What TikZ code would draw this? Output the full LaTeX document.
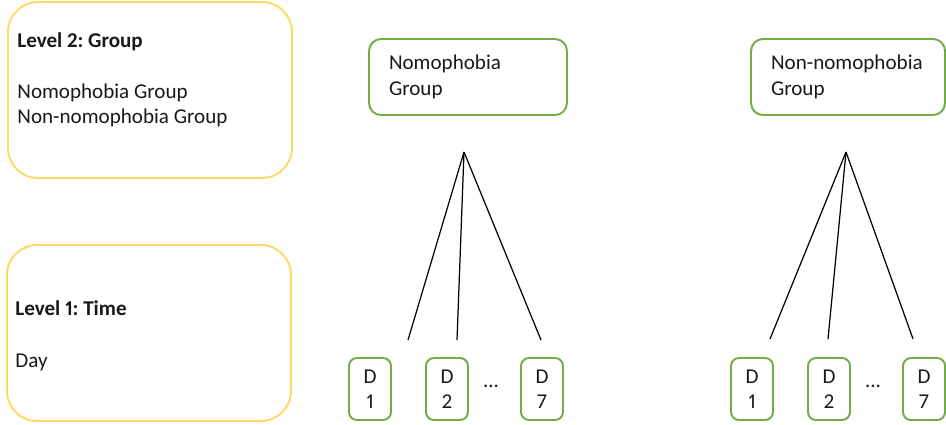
\documentclass[tikz,border=0pt]{standalone}
\usepackage{fontspec}
\setmainfont{Carlito}[Numbers=Proportional]
\frenchspacing
\usetikzlibrary{calc}
\definecolor{lvlyellow}{HTML}{FFD966}
\definecolor{grpgreen}{HTML}{70AD47}
\tikzset{
  lvlbox/.style={draw=lvlyellow,line width=1.1pt,rounded corners=0.6cm,
    minimum width=5.68cm,minimum height=3.52cm},
  grpbox/.style={draw=grpgreen,line width=1.1pt,rounded corners=0.24cm,
    minimum height=1.52cm,inner xsep=0.4cm,align=left},
  daybox/.style={draw=grpgreen,line width=1.1pt,rounded corners=0.16cm,
    minimum width=0.84cm,minimum height=1.24cm,inner sep=0pt,align=center},
  txt/.style={font=\fontsize{12}{14.5}\selectfont,text=black!90}
}

\begin{document}
\begin{tikzpicture}[txt]
      \useasboundingbox (0,0) rectangle (18.92,8.48);

      % levels
      \node[lvlbox] (lvtwo) at (3.00,6.68) {};
      \node[anchor=north west,inner sep=0pt,align=left] (lvtwotxt) at ($(lvtwo.north west)+(0.2,-0.62)$)
        {\textbf{Level 2: Group}\\[14.5pt]Nomophobia Group\\Non-nomophobia Group};
      \node[lvlbox] (lvone) at (2.98,1.82) {};
      \node[anchor=west,inner sep=0pt,align=left] (lvonetxt) at ($(lvone.west)+(0.18,-0.06)$)
        {\textbf{Level 1: Time}\\[15pt]Day};

      % nomophobia group
      \node[grpbox,text width=3.16cm] (nomo) at (9.36,6.94) {Nomophobia\\Group};
      \coordinate (nomotop) at (9.28,5.44);
      \coordinate (nomoa) at (8.16,1.68);
      \coordinate (nomob) at (9.14,1.68);
      \coordinate (nomoc) at (10.82,1.68);
      \draw[line width=0.7pt] (nomotop) -- (nomoa);
      \draw[line width=0.7pt] (nomotop) -- (nomob);
      \draw[line width=0.7pt] (nomotop) -- (nomoc);
      \node[daybox] (nomoday1) at (7.40,0.70) {D\\1};
      \node[daybox] (nomoday2) at (8.94,0.70) {D\\2};
      \node (nomodots) at (9.82,0.76) {...};
      \node[daybox] (nomoday7) at (10.84,0.70) {D\\7};

      % non-nomophobia group
      \node[grpbox,text width=3.08cm] (nonnomo) at (16.96,6.94) {Non-nomophobia\\Group};
      \coordinate (nonnomotop) at (16.92,5.44);
      \coordinate (nonnomoa) at (15.40,1.70);
      \coordinate (nonnomob) at (16.56,1.70);
      \coordinate (nonnomoc) at (18.26,1.70);
      \draw[line width=0.7pt] (nonnomotop) -- (nonnomoa);
      \draw[line width=0.7pt] (nonnomotop) -- (nonnomob);
      \draw[line width=0.7pt] (nonnomotop) -- (nonnomoc);
      \node[daybox] (nonnomoday1) at (15.04,0.70) {D\\1};
      \node[daybox] (nonnomoday2) at (16.58,0.70) {D\\2};
      \node (nonnomodots) at (17.46,0.76) {...};
      \node[daybox] (nonnomoday7) at (18.48,0.70) {D\\7};
\end{tikzpicture}
\end{document}
